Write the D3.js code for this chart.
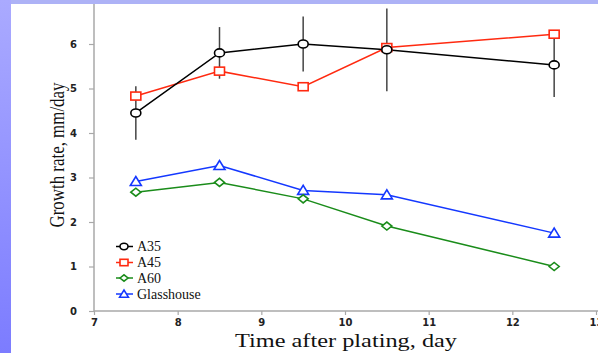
<!DOCTYPE html>
<html><head><meta charset="utf-8">
<script src="https://cdn.jsdelivr.net/npm/d3@7"></script>
<style>body{margin:0;background:#fff;}svg{display:block;}</style>
</head><body>
<svg id="c" width="598" height="353"></svg>
<script>
const days = [7.5, 8.5, 9.5, 10.5, 12.5];
const a35 = [4.45, 5.80, 6.00, 5.87, 5.53];
const a35Err = [0.60, 0.58, 0.62, 0.93, 0.72];
const a45 = [4.83, 5.39, 5.04, 5.92, 6.22];
const a60 = [2.67, 2.89, 2.52, 1.91, 1.00];
const glasshouse = [2.91, 3.27, 2.71, 2.61, 1.75];
const xTicks = [7, 8, 9, 10, 11, 12, 13];
const yTicks = [0, 1, 2, 3, 4, 5, 6];
const seriesNames = ["A35", "A45", "A60", "Glasshouse"];

const svg = d3.select("#c");
const x = d3.scaleLinear().domain([7, 13]).range([94, 596]);
const y = d3.scaleLinear().domain([0, 7]).range([311, -0.5]);

// axes
const axisColor = "#a8a8a8";
const gx = svg.append("g").attr("transform", "translate(0,311)")
  .call(d3.axisBottom(x).tickValues(xTicks).tickSize(4).tickPadding(4).tickFormat(d3.format("d")));
const gy = svg.append("g").attr("transform", "translate(94,0)")
  .call(d3.axisLeft(y).tickValues(yTicks).tickSize(5).tickPadding(12).tickFormat(d3.format("d")));
[gx, gy].forEach(g => {
  g.select(".domain").attr("stroke", axisColor).attr("stroke-width", 1.5);
  g.selectAll(".tick line").attr("stroke", axisColor).attr("stroke-width", 1.2);
  g.selectAll("text").attr("fill", "#222").attr("font-family", "DejaVu Sans").attr("font-size", 10).attr("font-weight", "bold");
});
gy.select(".domain").attr("d", "M0,311V0");
gx.select(".domain").attr("d", "M94,0H598");

const series = [
  {name: "A35", vals: a35, color: "#000000", shape: "circle"},
  {name: "A45", vals: a45, color: "#ff2a10", shape: "square"},
  {name: "A60", vals: a60, color: "#1a8c1a", shape: "diamond"},
  {name: "Glasshouse", vals: glasshouse, color: "#1438ff", shape: "triangle"}
];

function marker(g, shape, cx, cy, color, k) {
  k = k || 1;
  const sw = 1.6;
  if (shape === "circle") {
    g.append("ellipse").attr("cx", cx).attr("cy", cy).attr("rx", 5 * k).attr("ry", 4 * k)
      .attr("fill", "#fff").attr("stroke", color).attr("stroke-width", sw);
  } else if (shape === "square") {
    g.append("rect").attr("x", cx - 5 * k).attr("y", cy - 4 * k).attr("width", 10 * k).attr("height", 8 * k)
      .attr("fill", "#fff").attr("stroke", color).attr("stroke-width", sw);
  } else if (shape === "diamond") {
    g.append("path").attr("d", `M${cx - 5 * k},${cy}L${cx},${cy - 4 * k}L${cx + 5 * k},${cy}L${cx},${cy + 4 * k}Z`)
      .attr("fill", "#fff").attr("stroke", color).attr("stroke-width", sw);
  } else {
    g.append("path").attr("d", `M${cx - 5.5 * k},${cy + 4 * k}L${cx},${cy - 5 * k}L${cx + 5.5 * k},${cy + 4 * k}Z`)
      .attr("fill", "#fff").attr("stroke", color).attr("stroke-width", sw);
  }
}

const line = d3.line().x((d, i) => x(days[i])).y(d => y(d));

// error bars for A35
svg.append("g").selectAll("line").data(a35).join("line")
  .attr("x1", (d, i) => x(days[i])).attr("x2", (d, i) => x(days[i]))
  .attr("y1", (d, i) => y(d + a35Err[i])).attr("y2", (d, i) => y(d - a35Err[i]))
  .attr("stroke", "#444").attr("stroke-width", 1.5);

// lines (drawn in reverse so A35/A45 on top)
[...series].reverse().forEach(s => {
  svg.append("path").datum(s.vals).attr("d", line).attr("fill", "none")
    .attr("stroke", s.color).attr("stroke-width", 1.5);
});
[...series].reverse().forEach(s => {
  const g = svg.append("g");
  s.vals.forEach((v, i) => marker(g, s.shape, x(days[i]), y(v), s.color));
});

// legend
const legY = [246.5, 262.5, 278, 294];
series.forEach((s, i) => {
  const g = svg.append("g");
  g.append("line").attr("x1", 116).attr("x2", 133).attr("y1", legY[i]).attr("y2", legY[i])
    .attr("stroke", s.color).attr("stroke-width", 1.5);
  marker(g, s.shape, 124, legY[i], s.color, 0.8);
  g.append("text").attr("x", 137).attr("y", legY[i] + 4.5).text(seriesNames[i])
    .attr("font-family", "Liberation Serif").attr("font-size", 14).attr("fill", "#111");
});

// axis titles
svg.append("text").attr("transform", "translate(64,155) rotate(-90)")
  .attr("text-anchor", "middle").attr("font-family", "Liberation Serif").attr("font-size", 22)
  .attr("textLength", 145).attr("lengthAdjust", "spacingAndGlyphs")
  .attr("fill", "#111").text("Growth rate, mm/day");
svg.append("text").attr("x", 346).attr("y", 347)
  .attr("text-anchor", "middle").attr("font-family", "Liberation Serif").attr("font-size", 18.5)
  .attr("textLength", 222).attr("lengthAdjust", "spacingAndGlyphs")
  .attr("fill", "#111").text("Time after plating, day");

// slide decoration bands
const defs = svg.append("defs");
const lg = defs.append("linearGradient").attr("id", "lb").attr("x1", 0).attr("y1", 0).attr("x2", 0).attr("y2", 1);
lg.append("stop").attr("offset", 0).attr("stop-color", "#aaaaff");
lg.append("stop").attr("offset", 1).attr("stop-color", "#7c7cff");
svg.append("rect").attr("x", 0).attr("y", 0).attr("width", 598).attr("height", 4).attr("fill", "#adb2f6");
svg.append("rect").attr("x", 0).attr("y", 0).attr("width", 11).attr("height", 353).attr("fill", "url(#lb)");
</script>
</body></html>
